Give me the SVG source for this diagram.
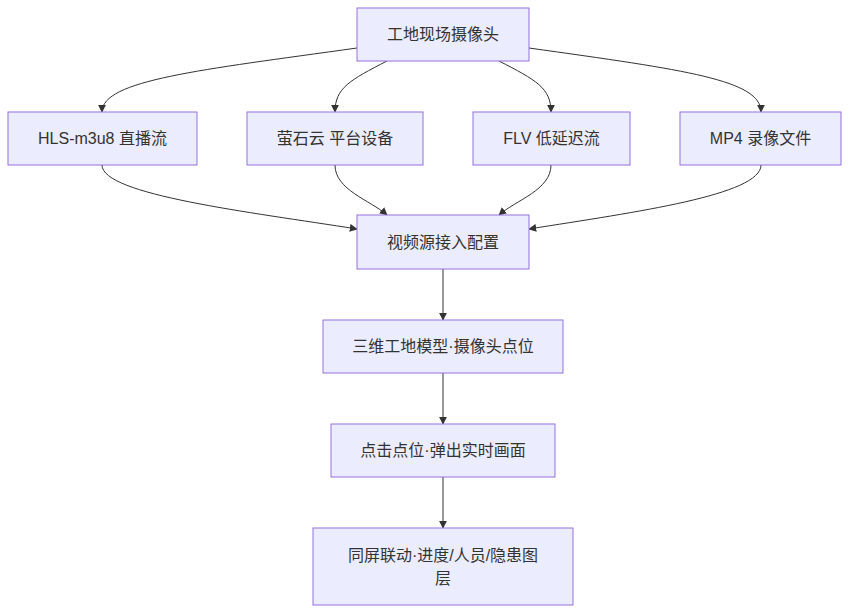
<svg xmlns="http://www.w3.org/2000/svg" width="849" height="614" viewBox="0 0 849 614">
<style>
.n rect{fill:#ECECFF;stroke:#9370DB;stroke-width:1}
.n text{font-family:"Liberation Sans","Noto Sans CJK SC",sans-serif;font-size:16px;fill:#333;text-anchor:middle;dominant-baseline:central}
.e path{fill:none;stroke:#333;stroke-width:1;marker-end:url(#a)}
</style>
<defs><marker id="a" viewBox="0 0 10 10" refX="9" refY="5" markerWidth="8" markerHeight="8" orient="auto"><path d="M0,0L10,5L0,10z" fill="#333"/></marker></defs>
<rect width="849" height="614" fill="#fff"/>
<g class="e">
<path d="M357,48 C200,70 102,80 102,112"/>
<path d="M387,61 C350,80 335,88 335,112"/>
<path d="M499,61 C536,80 551,88 551,112"/>
<path d="M529,48 C686,70 761,80 761,112"/>
<path d="M102,165 C102,195 250,212 357,229"/>
<path d="M335,165 C335,190 370,200 387,215"/>
<path d="M551,165 C551,190 516,200 499,215"/>
<path d="M761,165 C761,195 636,212 529,229"/>
<path d="M443,269 L443,320"/>
<path d="M443,373 L443,424"/>
<path d="M443,477 L443,528"/>
</g>
<g id="cam" class="n"><rect x="357" y="8" width="172" height="53"/><text x="443" y="34.5">工地现场摄像头</text></g>
<g id="hls" class="n"><rect x="8" y="112" width="189" height="53"/><text x="102.5" y="138.5">HLS-m3u8 直播流</text></g>
<g id="ys" class="n"><rect x="247" y="112" width="176" height="53"/><text x="335" y="138.5">萤石云 平台设备</text></g>
<g id="flv" class="n"><rect x="473" y="112" width="157" height="53"/><text x="551.5" y="138.5">FLV 低延迟流</text></g>
<g id="mp4" class="n"><rect x="680" y="112" width="161" height="53"/><text x="760.5" y="138.5">MP4 录像文件</text></g>
<g id="cfg" class="n"><rect x="357" y="215" width="172" height="54"/><text x="443" y="242">视频源接入配置</text></g>
<g id="model" class="n"><rect x="323" y="320" width="240" height="53"/><text x="443" y="346.5">三维工地模型·摄像头点位</text></g>
<g id="click" class="n"><rect x="331" y="424" width="224" height="53"/><text x="443" y="450.5">点击点位·弹出实时画面</text></g>
<g id="sync" class="n"><rect x="313" y="528" width="260" height="77"/><text x="443" y="555">同屏联动·进度/人员/隐患图</text><text x="443" y="578">层</text></g>
</svg>
